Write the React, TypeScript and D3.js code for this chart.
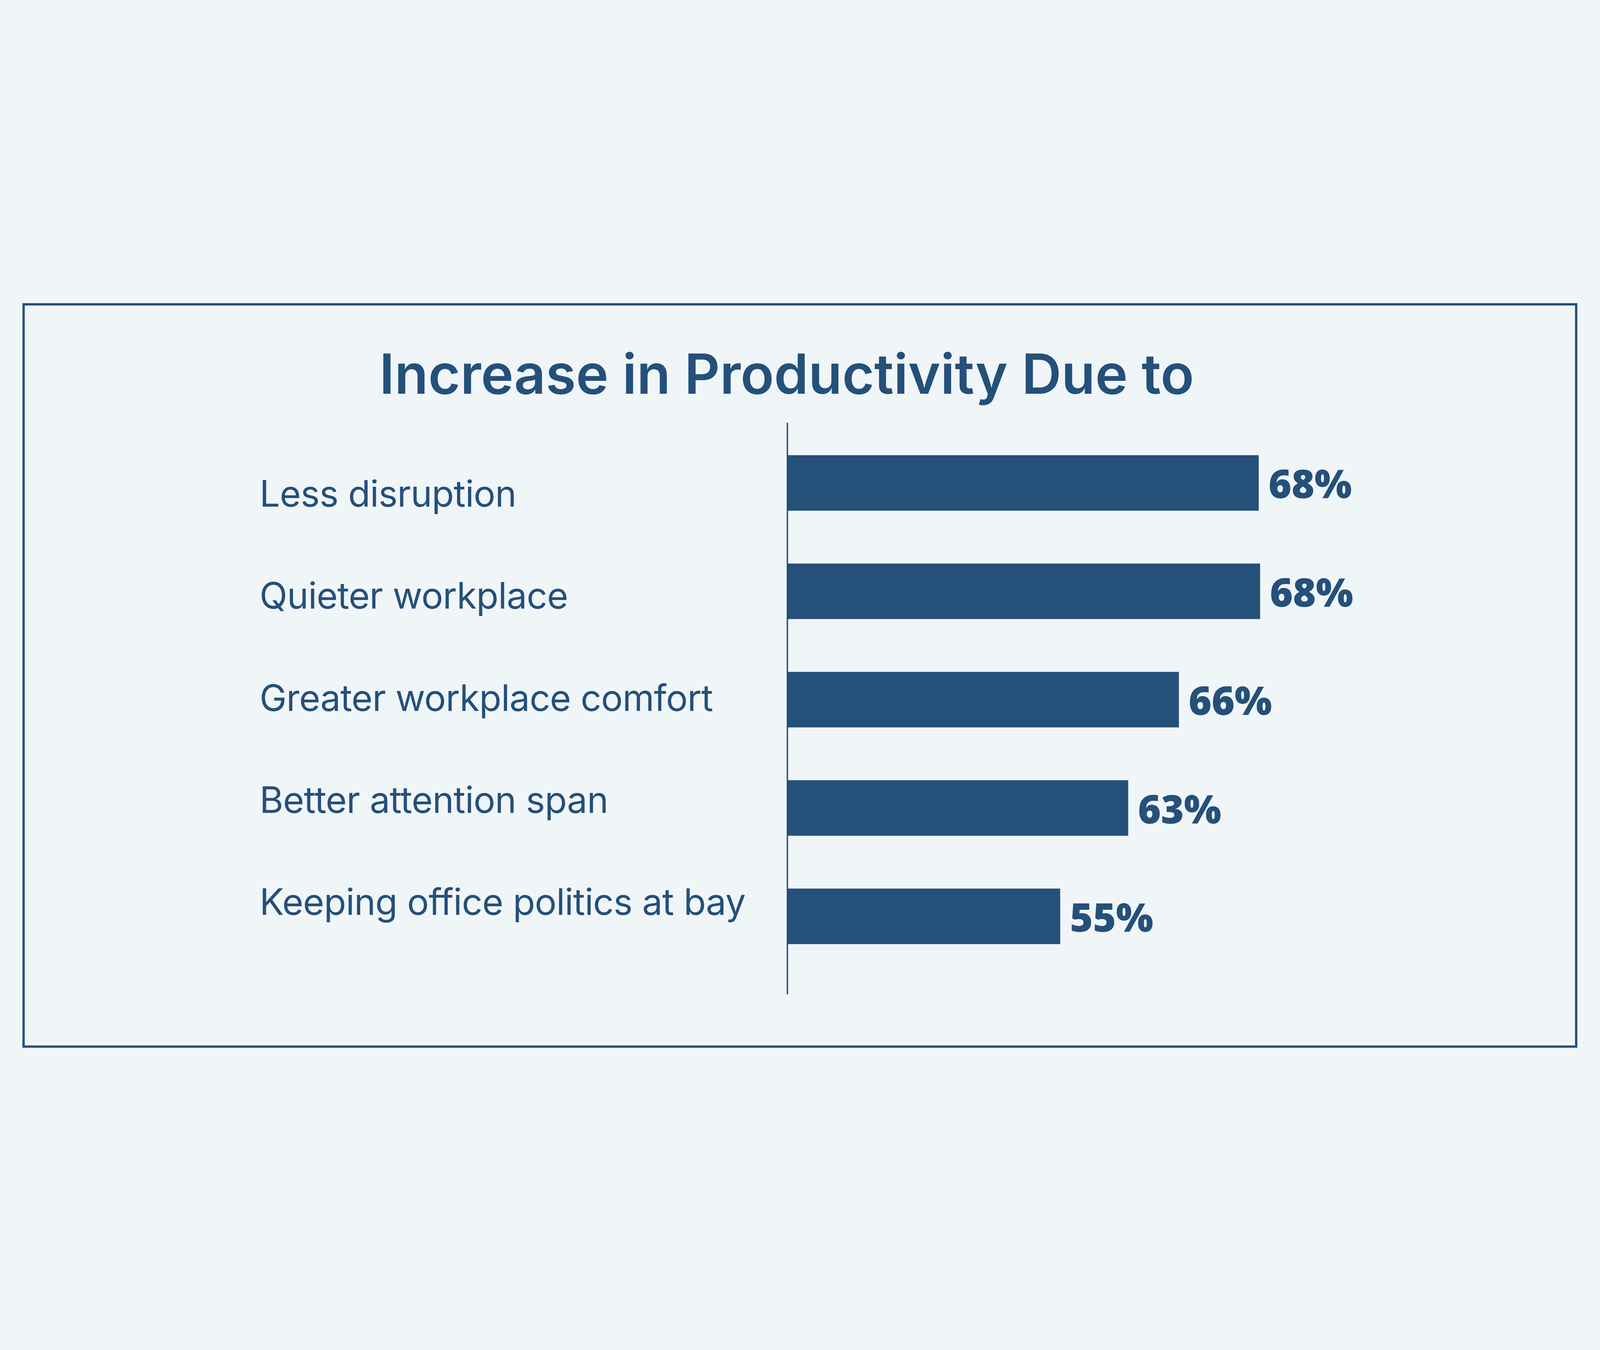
import * as d3 from 'd3';

import React, { useEffect, useRef } from 'react';

const categories: string[] = [
  'Less disruption',
  'Quieter workplace',
  'Greater workplace comfort',
  'Better attention span',
  'Keeping office politics at bay',
];

// percentages printed next to the bars
const percentLabels: number[] = [68, 68, 66, 63, 55];

// bar lengths as drawn in the artwork (they are not proportional to the printed numbers)
const barShown: number[] = [67.9, 68.1, 56.4, 49.1, 39.3];

const title = 'Increase in Productivity Due to';

const WIDTH = 6915;
const HEIGHT = 3456;
const INK = '#24507a';
const BG = '#f0f5f8';

export default function App() {
  const chartRef = useRef(null);

  useEffect(() => {
    document.body.style.margin = '0';
    document.body.style.background = BG;

    // the window may be narrower than the artwork, so scale it to fit
    const svg = d3
      .select(chartRef.current)
      .attr('viewBox', `0 0 ${WIDTH} ${HEIGHT}`)
      .attr('preserveAspectRatio', 'xMidYMid meet');
    svg.selectAll('*').remove();

    svg.append('rect').attr('width', WIDTH).attr('height', HEIGHT).attr('fill', BG);

    // outer frame
    svg
      .append('rect')
      .attr('x', 102)
      .attr('y', 126)
      .attr('width', 6710)
      .attr('height', 3208)
      .attr('fill', 'none')
      .attr('stroke', INK)
      .attr('stroke-width', 10);

    svg
      .append('text')
      .attr('x', 3400)
      .attr('y', 513)
      .attr('text-anchor', 'middle')
      .attr('font-family', 'Inter')
      .attr('font-weight', 600)
      .attr('font-size', 238)
      .attr('fill', INK)
      .text(title);

    const axisX = 3403;

    const xScale = d3
      .scaleLinear()
      .domain([0, 100])
      .range([axisX, axisX + 3000]);

    const yScale = d3
      .scaleBand()
      .domain(categories)
      .range([778, 2891])
      .paddingInner(0.4875);

    const labelScale = d3.scalePoint().domain(categories).range([1001, 2764]);

    const rows = categories.map((name, i) => ({
      name,
      label: percentLabels[i],
      shown: barShown[i],
    }));

    svg
      .append('g')
      .selectAll('rect')
      .data(rows)
      .join('rect')
      .attr('fill', INK)
      .attr('x', xScale(0))
      .attr('y', (d) => yScale(d.name) ?? 0)
      .attr('width', (d) => xScale(d.shown) - xScale(0))
      .attr('height', yScale.bandwidth());

    // vertical baseline
    svg
      .append('line')
      .attr('x1', axisX)
      .attr('x2', axisX)
      .attr('y1', 638)
      .attr('y2', 3108)
      .attr('stroke', INK)
      .attr('stroke-width', 6);

    svg
      .append('g')
      .selectAll('text')
      .data(rows)
      .join('text')
      .attr('x', (d) => xScale(d.shown) + 42)
      .attr('y', (d) => (yScale(d.name) ?? 0) + yScale.bandwidth() / 2 + 66)
      .attr('font-family', 'Open Sans')
      .attr('font-weight', 800)
      .attr('font-size', 170)
      .attr('fill', INK)
      .text((d) => `${d.label}%`);

    svg
      .append('g')
      .selectAll('text')
      .data(rows)
      .join('text')
      .attr('x', 1122)
      .attr('y', (d) => labelScale(d.name) ?? 0)
      .attr('font-family', 'Inter')
      .attr('font-weight', 400)
      .attr('font-size', 157)
      .attr('letter-spacing', -1.5)
      .attr('fill', INK)
      .text((d) => d.name);
  }, []);

  return (
    <svg
      ref={chartRef}
      style={{ position: 'absolute', left: 0, top: 0, width: '100vw', height: '100vh', display: 'block' }}
    ></svg>
  );
}
